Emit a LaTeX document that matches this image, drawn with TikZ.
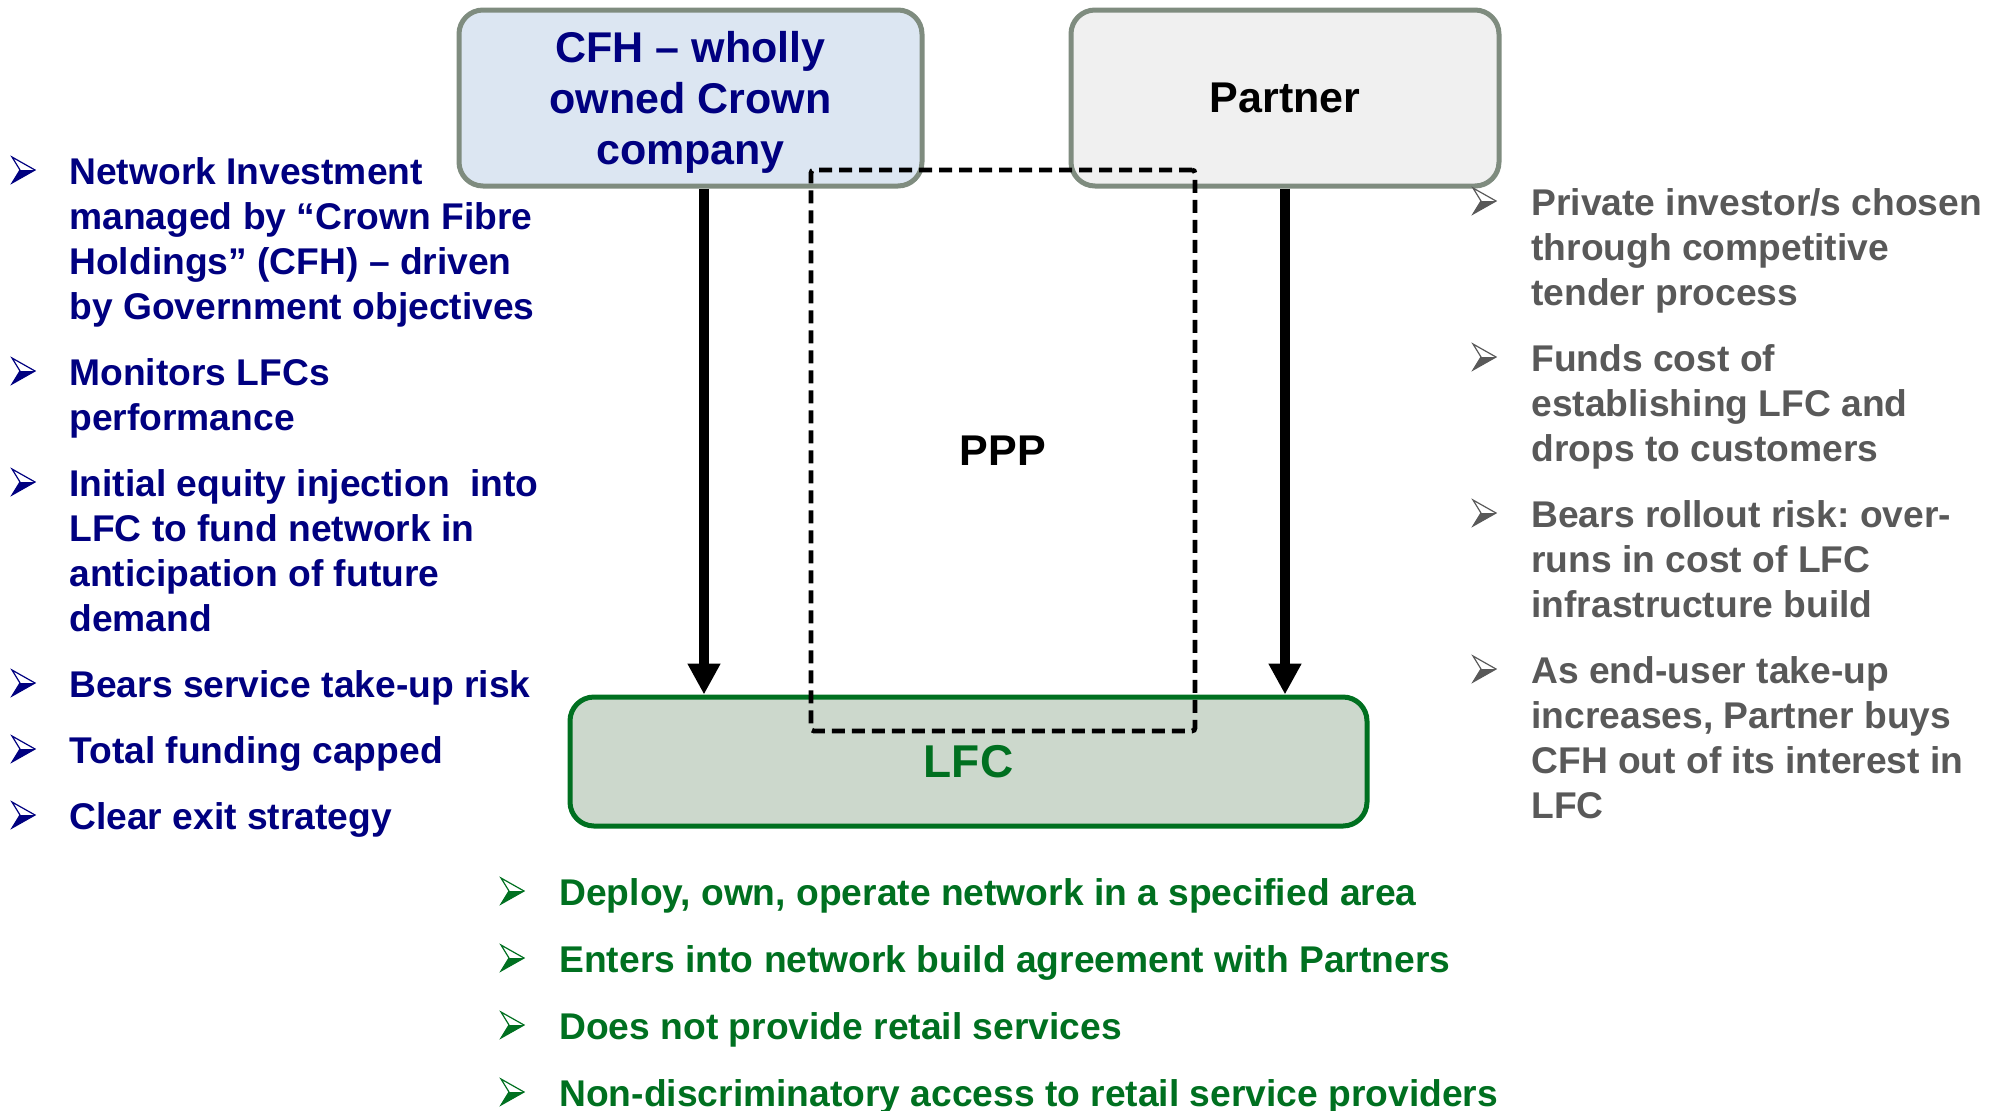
\documentclass[tikz,border=0pt]{standalone}
\usepackage{fontspec}
\setmainfont{Liberation Sans}
\usetikzlibrary{arrows.meta}
\frenchspacing

\definecolor{navytext}{RGB}{0,0,128}
\definecolor{greytext}{RGB}{89,89,89}
\definecolor{lfcgreen}{RGB}{0,112,32}
\definecolor{boxedge}{RGB}{127,140,127}
\definecolor{cfhfill}{RGB}{220,230,242}
\definecolor{partnerfill}{RGB}{240,240,240}
\definecolor{lfcfill}{RGB}{204,216,204}

% left-aligned block of lines whose baseline is the first line
\newcommand\stackedlines[1]{\vtop{\baselineskip=22.5pt\halign{##\hfil\cr#1\crcr}}}
% centred block of lines, baseline on the first line
\newcommand\centredlines[1]{\vtop{\baselineskip=25.5pt\halign{\hfil##\hfil\cr#1\crcr}}}

% 3-D arrowhead bullet: left x, text baseline y, colour
\newcommand\arrowbullet[3]{%
  \begin{scope}[shift={(#1,#2-14)}]
    \fill[#3] (8,0) -- (23,0) -- (0,13) -- cycle;
    \draw[#3, line width=0.6pt, line join=miter] (0,-13) -- (23,0) -- (0,13) -- (8,0) -- cycle;
  \end{scope}}

\begin{document}
\begin{tikzpicture}[x=0.5pt, y=-0.5pt,
  entity/.style={draw=boxedge, line width=2.5pt, rounded corners=12pt, inner sep=0pt},
  bodytext/.style={anchor=base west, inner sep=0pt, font=\fontsize{18.6pt}{22.5pt}\selectfont\bfseries},
  titletext/.style={inner sep=0pt, font=\fontsize{21.5pt}{25.5pt}\selectfont\bfseries},
  flow/.style={line width=5pt, -{Triangle[length=15.5pt,width=15.5pt]}},
  pppbox/.style={draw=black, line width=2.4pt, dash pattern=on 6.5pt off 3.5pt, rounded corners=1.5pt,
    minimum width=192pt, minimum height=280.5pt, inner sep=0pt, font=\fontsize{21.5pt}{25.5pt}\selectfont\bfseries}]

\useasboundingbox (0,0) rectangle (1999,1110);

% upper entities
\node[entity, fill=cfhfill, minimum width=231.5pt, minimum height=88pt] (cfh) at (690.5,98) {};
\node[titletext, anchor=base, text=navytext] (cfhlabel) at (690.5,62)
  {\centredlines{CFH – wholly\cr owned Crown\cr company}};
\node[entity, fill=partnerfill, minimum width=214pt, minimum height=88pt, titletext] (partner) at (1285,98) {Partner};

% local fibre company
\node[entity, draw=lfcgreen, line width=2.5pt, fill=lfcfill, minimum width=398.5pt, minimum height=64.5pt,
  text=lfcgreen, font=\fontsize{23pt}{27pt}\selectfont\bfseries] (lfc) at (968.5,761.5) {LFC};

% public-private partnership boundary
\node[pppbox] (ppp) at (1003,450.5) {PPP};

% funding flows into the LFC
\draw[flow] ([xshift=6.75pt]cfh.south) -- ([xshift=6.75pt]cfh.south |- lfc.north);
\draw[flow] (partner.south) -- (partner.south |- lfc.north);

% CFH role
\foreach \y in {184,385,496,697,763,829} {\arrowbullet{12}{\y}{navytext}}
\node[bodytext, text=navytext] (cfh1) at (69,184)
  {\stackedlines{Network Investment\cr managed by “Crown Fibre\cr Holdings” (CFH) – driven\cr by Government objectives}};
\node[bodytext, text=navytext] (cfh2) at (69,385) {\stackedlines{Monitors LFCs\cr performance}};
\node[bodytext, text=navytext] (cfh3) at (69,496)
  {\stackedlines{Initial equity injection\ \ into\cr LFC to fund network in\cr anticipation of future\cr demand}};
\node[bodytext, text=navytext] (cfh4) at (69,697) {Bears service take-up risk};
\node[bodytext, text=navytext] (cfh5) at (69,763) {Total funding capped};
\node[bodytext, text=navytext] (cfh6) at (69,829) {Clear exit strategy};

% Partner role
\foreach \y in {215,371,527,683} {\arrowbullet{1473}{\y}{greytext}}
\node[bodytext, text=greytext] (par1) at (1531,215)
  {\stackedlines{Private investor/s chosen\cr through competitive\cr tender process}};
\node[bodytext, text=greytext] (par2) at (1531,371)
  {\stackedlines{Funds cost of\cr establishing LFC and\cr drops to customers}};
\node[bodytext, text=greytext] (par3) at (1531,527)
  {\stackedlines{Bears rollout risk: over-\cr runs in cost of LFC\cr infrastructure build}};
\node[bodytext, text=greytext] (par4) at (1531,683)
  {\stackedlines{As end-user take-up\cr increases, Partner buys\cr CFH out of its interest in\cr LFC}};

% LFC role
\foreach \y in {905,972,1039,1106} {\arrowbullet{501}{\y}{lfcgreen}}
\node[bodytext, text=lfcgreen] (lfc1) at (559,905) {Deploy, own, operate network in a specified area};
\node[bodytext, text=lfcgreen] (lfc2) at (559,972) {Enters into network build agreement with Partners};
\node[bodytext, text=lfcgreen] (lfc3) at (559,1039) {Does not provide retail services};
\node[bodytext, text=lfcgreen] (lfc4) at (559,1106) {Non-discriminatory access to retail service providers};

\end{tikzpicture}
\end{document}
